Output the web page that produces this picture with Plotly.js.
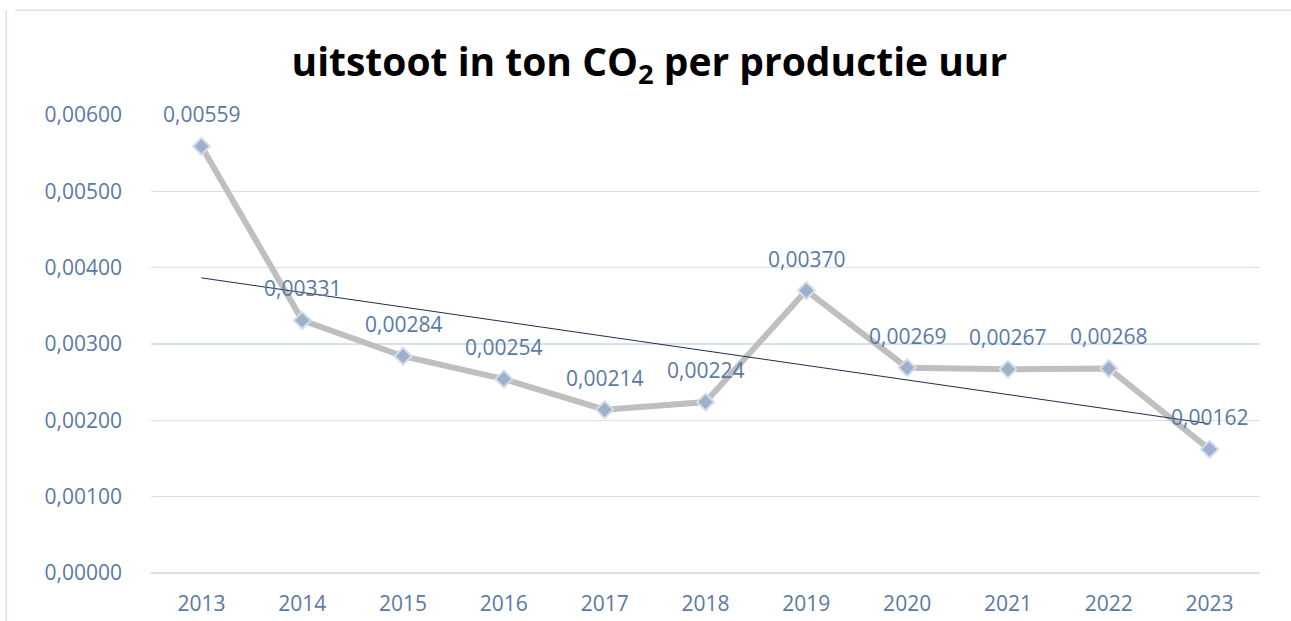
<!DOCTYPE html>
<html>
<head>
<meta charset="utf-8">
<script src="https://cdn.plot.ly/plotly-3.0.1.min.js"></script>
<style>html,body{margin:0;padding:0;background:#fff;}#chart{width:1291px;height:621px;}</style>
</head>
<body>
<div id="chart"></div>
<script>
const years = ['2013','2014','2015','2016','2017','2018','2019','2020','2021','2022','2023'];
const emissions = [0.00559,0.00331,0.00284,0.00254,0.00214,0.00224,0.00370,0.00269,0.00267,0.00268,0.00162];
const yTicks = [0,0.001,0.002,0.003,0.004,0.005,0.006];

// linear trendline (least squares) computed from the data
const n = emissions.length;
const xs = emissions.map((_, i) => i);
const mx = xs.reduce((a,b)=>a+b,0)/n;
const my = emissions.reduce((a,b)=>a+b,0)/n;
let sxy = 0, sxx = 0;
for (let i = 0; i < n; i++) { sxy += (xs[i]-mx)*(emissions[i]-my); sxx += (xs[i]-mx)**2; }
const slope = sxy/sxx, icpt = my - slope*mx;
const trend = xs.map(x => icpt + slope*x);

const fmt = v => v.toFixed(5).replace('.', ',');
const labelColor = '#5a79a4';
const font = 'Open Sans, sans-serif';

const traces = [
  {
    x: years, y: emissions, type: 'scatter', mode: 'lines+markers',
    line: {color: '#bfbfbf', width: 6},
    marker: {symbol: 'diamond', size: 13, color: '#9db0cc', line: {color: '#d3ddea', width: 2}},
    hoverinfo: 'skip'
  },
  {
    x: years, y: trend, type: 'scatter', mode: 'lines',
    line: {color: '#1f2d50', width: 1}, hoverinfo: 'skip'
  }
];

const annotations = emissions.map((v, i) => ({
  x: i, y: v, xref: 'x', yref: 'y',
  text: fmt(v), showarrow: false, yshift: 32,
  xanchor: 'center', yanchor: 'middle',
  font: {family: font, size: 21, color: labelColor}
}));

const layout = {
  width: 1291, height: 621,
  margin: {l: 151, r: 31, t: 115, b: 48},
  paper_bgcolor: '#ffffff', plot_bgcolor: '#ffffff',
  separators: ',.',
  showlegend: false,
  title: {
    text: '<b>uitstoot in ton CO<sub>2</sub> per productie uur</b>',
    font: {family: font, size: 39, color: '#000000'},
    x: 0.503, xanchor: 'center', y: 1 - 62/621, yanchor: 'middle', yref: 'container'
  },
  xaxis: {
    type: 'category', range: [-0.5, 10.5], showgrid: false, zeroline: false,
    showline: false, ticks: '', tickfont: {family: font, size: 21, color: labelColor},
    ticklabelstandoff: 16, fixedrange: true
  },
  yaxis: {
    range: [0, 0.006], tickvals: yTicks, tickformat: '.5f',
    showgrid: true, gridcolor: '#d9e1ec', gridwidth: 1.5,
    zeroline: true, zerolinecolor: '#d9e1ec', zerolinewidth: 1.5,
    showline: false, ticks: '', tickfont: {family: font, size: 21, color: labelColor},
    ticklabelstandoff: 28, fixedrange: true
  },
  annotations: annotations,
  shapes: [
    {type: 'line', xref: 'paper', yref: 'paper', x0: -0.1225, x1: 1.1, y0: 1.2285, y1: 1.2285, line: {color: '#d9e1ec', width: 1.5}},
    {type: 'line', xref: 'paper', yref: 'paper', x0: -0.1305, x1: -0.1305, y0: -0.2, y1: 1.2285, line: {color: '#d9e1ec', width: 1.5}}
  ]
};

Plotly.newPlot('chart', traces, layout, {displayModeBar: false, staticPlot: true});
</script>
</body>
</html>
